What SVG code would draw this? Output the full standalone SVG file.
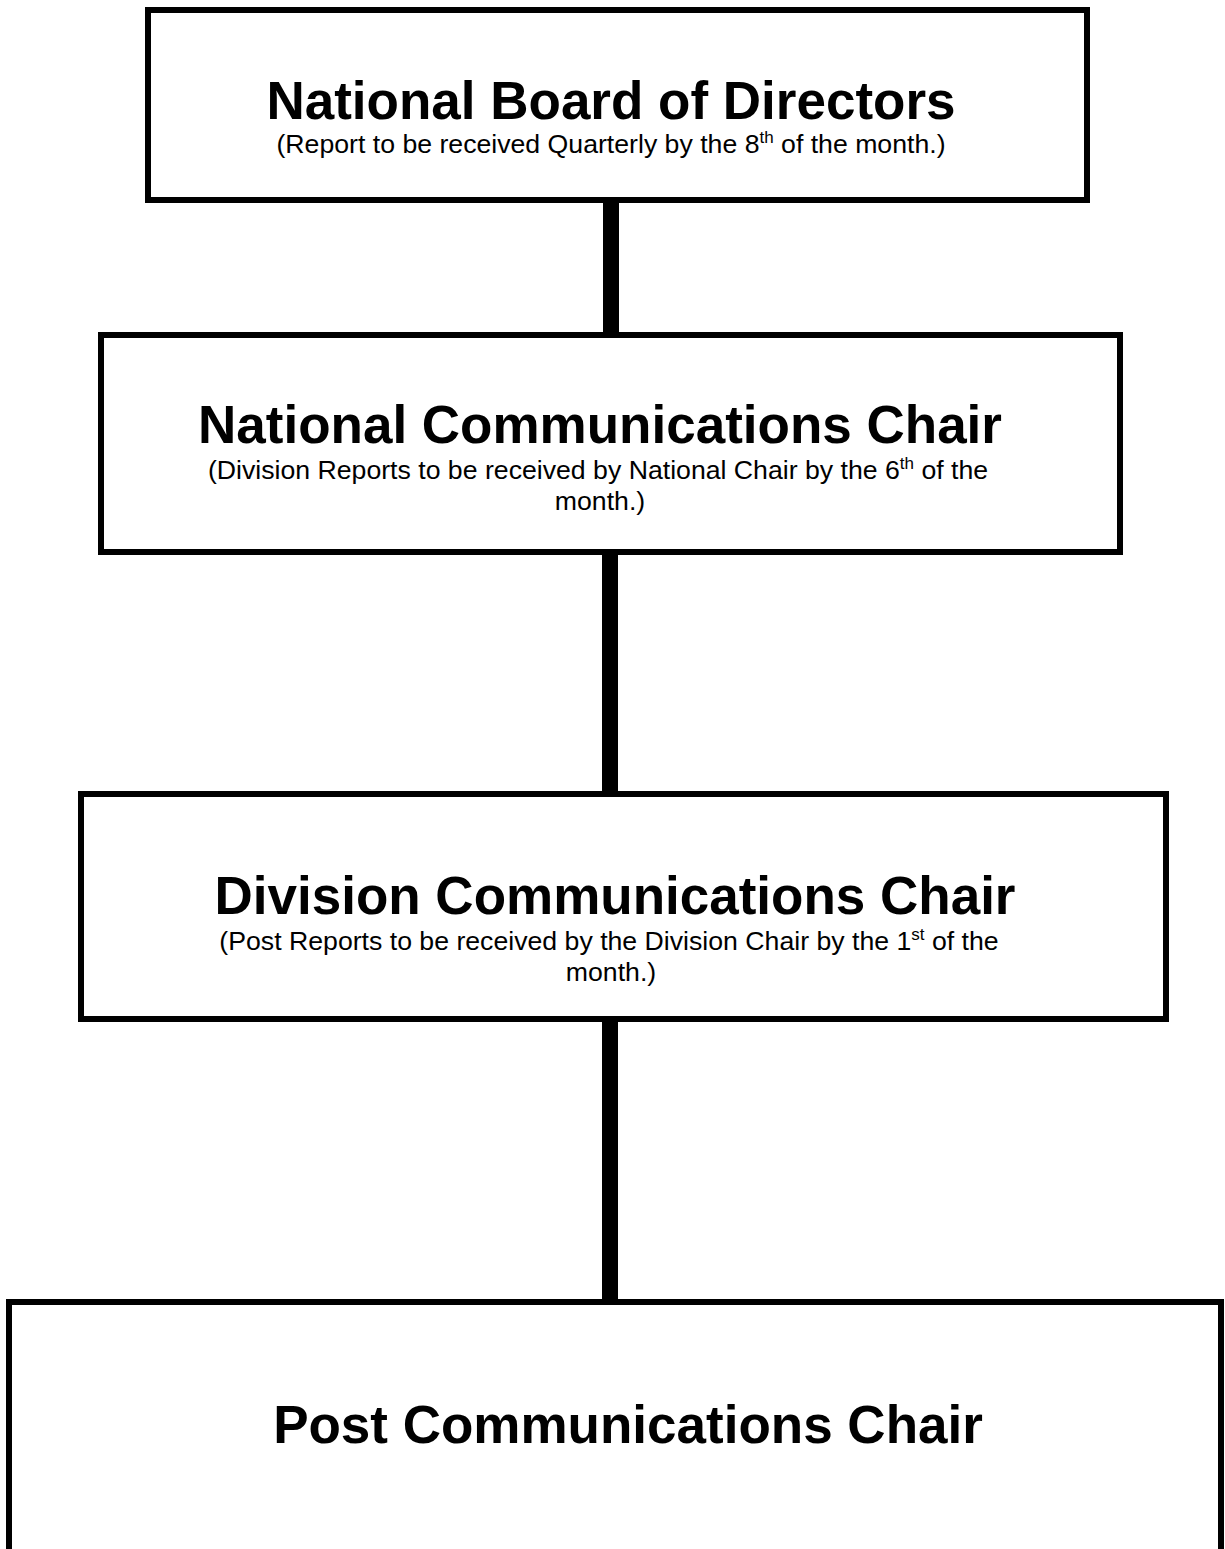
<svg xmlns="http://www.w3.org/2000/svg" width="1225" height="1549" viewBox="0 0 1225 1549">
<style>
.box{fill:#fff;stroke:#000;stroke-width:6}
.conn{fill:#000;stroke:none}
.t{font-family:"Liberation Sans",Arial,sans-serif;font-weight:bold;font-size:53px;fill:#000;text-anchor:middle}
.s{font-family:"Liberation Sans",Arial,sans-serif;font-size:26.67px;fill:#000;text-anchor:middle}
.sup{font-size:17px}
</style>
<rect width="1225" height="1549" fill="#fff"/>
<g id="connectors">
<rect class="conn" x="603" y="200" width="16" height="135"/>
<rect class="conn" x="602" y="552" width="16" height="242"/>
<rect class="conn" x="602" y="1019" width="16" height="283"/>
</g>
<g id="node-board">
<rect class="box" x="148" y="10" width="939" height="190"/>
<text class="t" x="611" y="119">National Board of Directors</text>
<text class="s" x="611" y="153">(Report to be received Quarterly by the 8<tspan class="sup" dy="-10">th</tspan><tspan dy="10"> of the month.)</tspan></text>
</g>
<g id="node-national">
<rect class="box" x="101" y="335" width="1019" height="217"/>
<text class="t" x="600" y="443">National Communications Chair</text>
<text class="s" x="598" y="479">(Division Reports to be received by National Chair by the 6<tspan class="sup" dy="-10">th</tspan><tspan dy="10"> of the</tspan></text>
<text class="s" x="600" y="510">month.)</text>
</g>
<g id="node-division">
<rect class="box" x="81" y="794" width="1085" height="225"/>
<text class="t" x="615" y="914">Division Communications Chair</text>
<text class="s" x="609" y="950">(Post Reports to be received by the Division Chair by the 1<tspan class="sup" dy="-10">st</tspan><tspan dy="10"> of the</tspan></text>
<text class="s" x="611" y="981">month.)</text>
</g>
<g id="node-post">
<rect class="box" x="9" y="1302" width="1212" height="300"/>
<text class="t" x="628" y="1443">Post Communications Chair</text>
</g>
</svg>
